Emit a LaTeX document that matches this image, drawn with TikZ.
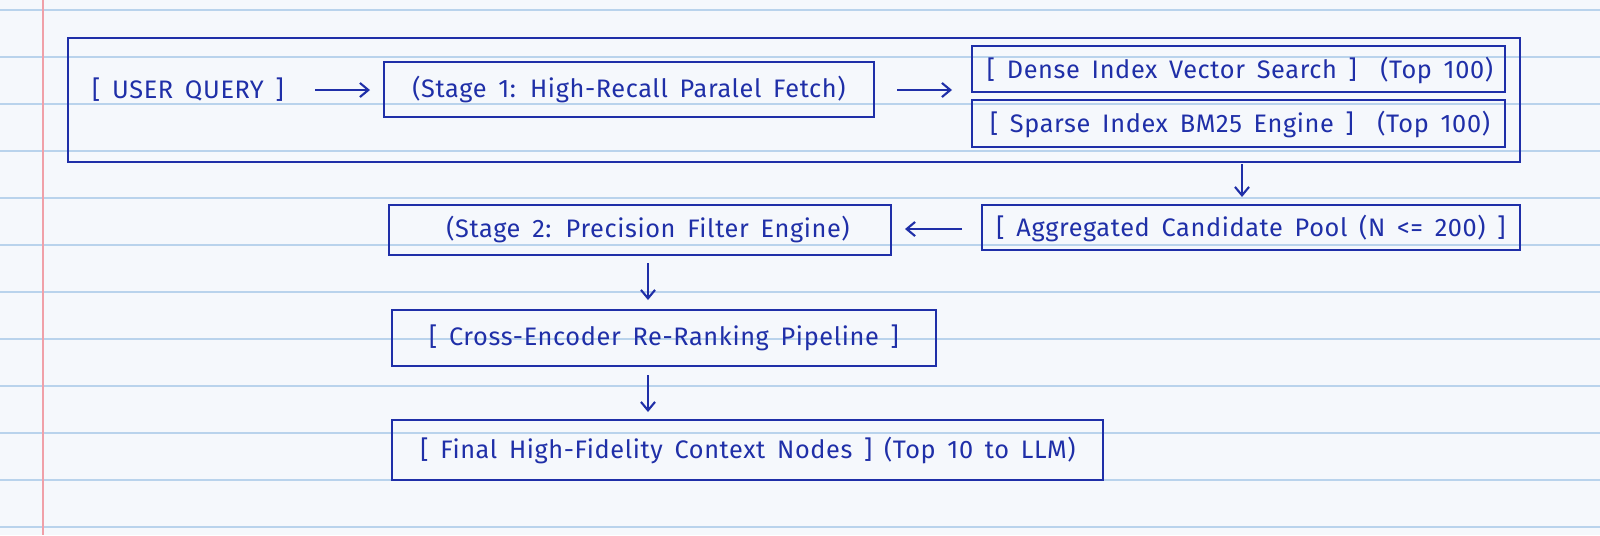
\documentclass[tikz,border=0pt]{standalone}
\usetikzlibrary{arrows.meta}
\usepackage{fontspec}
\setmainfont{Fira Sans}[WordSpace=1.6,LetterSpace=2.5]
\definecolor{ink}{HTML}{1F2FA8}
\definecolor{rule}{HTML}{B9D3EC}
\definecolor{margin}{HTML}{F0A0A8}
\definecolor{paper}{HTML}{F5F8FC}
\begin{document}
\begin{tikzpicture}[x=0.025cm,y=-0.025cm,
  box/.style={draw=ink,line width=1.6pt},
  txt/.style={text=ink,font=\fontsize{18}{22}\selectfont,inner sep=0pt},
  arr/.style={draw=ink,line width=1.5pt,-{Straight Barb[length=6pt,width=10pt]}}]
\fill[paper] (0,0) rectangle (1600,535);
\useasboundingbox (0,0) rectangle (1600,535);
\foreach \y in {10,57,104,151,198,245,292,339,386,433,480,527}
  \draw[rule,line width=0.8pt] (0,\y) -- (1600,\y);
\draw[margin,line width=1pt] (43,0) -- (43,535);
% outer
\draw[box] (68,38) rectangle (1520,162);
\node[txt] (uq) at (188,90) {[ USER QUERY ]};
\draw[box] (384,62) rectangle (874,117);
\node[txt] (s1) at (629,89) {(Stage 1: High-Recall Paralel Fetch)};
\draw[box] (972,46) rectangle (1505,92);
\node[txt] (dn) at (1240,70) {[ Dense Index Vector Search ]\ \ (Top 100)};
\draw[box] (972,100) rectangle (1505,147);
\node[txt] (sp) at (1240,124) {[ Sparse Index BM25 Engine ]\ \ (Top 100)};
\draw[box] (982,205) rectangle (1520,250);
\node[txt] (ag) at (1251,228) {[ Aggregated Candidate Pool (N <= 200) ]};
\draw[box] (389,205) rectangle (891,255);
\node[txt] (s2) at (648,229) {(Stage 2: Precision Filter Engine)};
\draw[box] (392,310) rectangle (936,366);
\node[txt] (ce) at (664,338) {[ Cross-Encoder Re-Ranking Pipeline ]};
\draw[box] (392,420) rectangle (1103,480);
\node[txt] (fn) at (748,450) {[ Final High-Fidelity Context Nodes ] (Top 10 to LLM)};
\coordinate (a1) at (315,90); \coordinate (b1) at (370,90);
\draw[arr] (a1) -- (b1);
\coordinate (a2) at (897,90); \coordinate (b2) at (952,90);
\draw[arr] (a2) -- (b2);
\coordinate (a3) at (1242,164); \coordinate (b3) at (1242,197);
\draw[arr] (a3) -- (b3);
\coordinate (a4) at (962,229); \coordinate (b4) at (905,229);
\draw[arr] (a4) -- (b4);
\coordinate (a5) at (648,263); \coordinate (b5) at (648,300);
\draw[arr] (a5) -- (b5);
\coordinate (a6) at (648,375); \coordinate (b6) at (648,412);
\draw[arr] (a6) -- (b6);
\end{tikzpicture}
\end{document}
